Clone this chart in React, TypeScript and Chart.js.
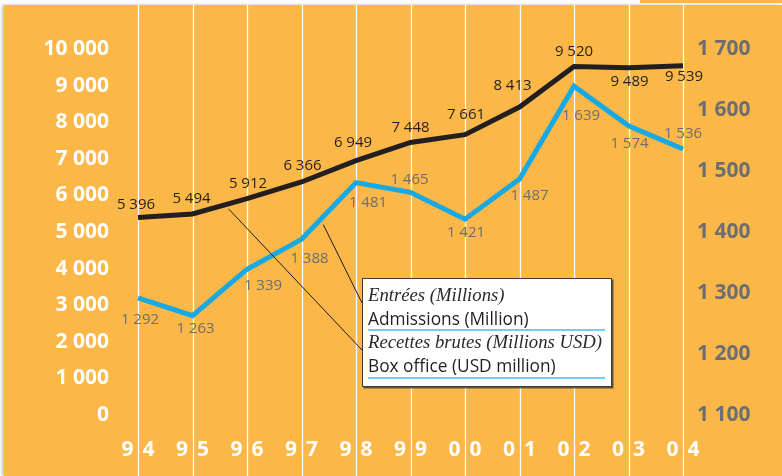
import React, { useEffect, useRef } from "react";
import { Chart, registerables } from "chart.js";

Chart.register(...registerables);

// ---------- data ----------
const years = ["9 4", "9 5", "9 6", "9 7", "9 8", "9 9", "0 0", "0 1", "0 2", "0 3", "0 4"];
const boxOffice = [5396, 5494, 5912, 6366, 6949, 7448, 7661, 8413, 9520, 9489, 9539];
const admissions = [1292, 1263, 1339, 1388, 1481, 1465, 1421, 1487, 1639, 1574, 1536];
const leftTicks = ["0", "1 000", "2 000", "3 000", "4 000", "5 000", "6 000", "7 000", "8 000", "9 000", "10 000"];
const rightTicks = ["1 100", "1 200", "1 300", "1 400", "1 500", "1 600", "1 700"];
const legendAdmFr = "Entrées (Millions)";
const legendAdmEn = "Admissions (Million)";
const legendBoxFr = "Recettes brutes (Millions USD)";
const legendBoxEn = "Box office (USD million)";

// ---------- styling (label placement relative to points) ----------
const boxLabelOffsets = [[-2, -13], [-1, -15], [1, -15], [1, -16], [-3, -18], [0, -15], [1, -20], [-7, -21], [0, -15], [1, 14], [1, 11]];
const admLabelOffsets = [[2, 22], [3, 13], [16, 17], [8, 19], [12, 20], [-1, -13], [1, 14], [10, 17], [7, 30], [1, 18], [0, -15]];

const ORANGE = "#FBB748";
const BLUE = "#17A9E3";
const BLACK = "#231F20";
const GREY = "#6D6E71";
const SANS = "'Open Sans', 'Noto Sans', sans-serif";
const SERIF = "'Liberation Serif', 'DejaVu Serif', serif";

const fmt = (n: number) => n.toString().replace(/\B(?=(\d{3})+(?!\d))/g, " ");

const interp = (arr: number[], t: number) => {
  const i = Math.floor(t);
  const f = t - i;
  return arr[i] + (arr[i + 1] - arr[i]) * f;
};

const decorPlugin = {
  id: "decor",
  beforeDatasetsDraw(chart: any) {
    const { ctx, scales } = chart;
    const x = scales.x;
    ctx.save();
    ctx.strokeStyle = "#ffffff";
    ctx.lineWidth = 1.3;
    years.forEach((_, i) => {
      const px = Math.round(x.getPixelForValue(i)) + 0.5;
      ctx.beginPath();
      ctx.moveTo(px, 5);
      ctx.lineTo(px, chart.height);
      ctx.stroke();
    });
    ctx.restore();
  },
  afterDatasetsDraw(chart: any) {
    const { ctx, scales, chartArea } = chart;
    const x = scales.x;
    const yL = scales.y;
    const yR = scales.y1;

    // value labels
    ctx.save();
    ctx.font = `15px ${SANS}`;
    ctx.textAlign = "center";
    ctx.textBaseline = "middle";
    const metaBox = chart.getDatasetMeta(0);
    const metaAdm = chart.getDatasetMeta(1);
    ctx.fillStyle = BLACK;
    boxOffice.forEach((v, i) => {
      const p = metaBox.data[i];
      const [dx, dy] = boxLabelOffsets[i];
      ctx.fillText(fmt(v), p.x + dx, p.y + dy);
    });
    ctx.fillStyle = GREY;
    admissions.forEach((v, i) => {
      const p = metaAdm.data[i];
      const [dx, dy] = admLabelOffsets[i];
      ctx.fillText(fmt(v), p.x + dx, p.y + dy);
    });
    ctx.restore();

    // legend box
    const bx = chartArea.left + 224;
    const by = chartArea.top + 229;
    const bw = 250;
    const bh = 109;

    // leader lines
    ctx.save();
    ctx.strokeStyle = "#1a1a1a";
    ctx.lineWidth = 1;
    const tA = 3.4;
    const ax = x.getPixelForValue(tA);
    const ay = yR.getPixelForValue(interp(admissions, tA)) + 8;
    ctx.beginPath();
    ctx.moveTo(ax, ay);
    ctx.lineTo(bx, by + 25);
    ctx.stroke();
    const tB = 1.66;
    const bxp = x.getPixelForValue(tB);
    const byp = yL.getPixelForValue(interp(boxOffice, tB)) + 5;
    ctx.beginPath();
    ctx.moveTo(bxp, byp);
    ctx.lineTo(bx, by + 72);
    ctx.stroke();
    ctx.restore();

    ctx.save();
    ctx.fillStyle = "rgba(60,60,60,0.8)";
    ctx.fillRect(bx + 1.5, by + 1.5, bw, bh);
    ctx.fillStyle = "#ffffff";
    ctx.fillRect(bx, by, bw, bh);
    ctx.strokeStyle = "#3a3a3a";
    ctx.lineWidth = 1;
    ctx.strokeRect(bx + 0.5, by + 0.5, bw - 1, bh - 1);

    const tx = bx + 6;
    ctx.textAlign = "left";
    ctx.textBaseline = "alphabetic";
    ctx.fillStyle = "#2a2a2a";
    ctx.font = `italic 18.7px ${SERIF}`;
    ctx.fillText(legendAdmFr, tx, by + 23);
    ctx.font = `17.3px ${SANS}`;
    ctx.fillStyle = BLACK;
    ctx.fillText(legendAdmEn, tx, by + 47);
    ctx.fillStyle = "#2a2a2a";
    ctx.font = `italic 18.7px ${SERIF}`;
    ctx.fillText(legendBoxFr, tx, by + 70);
    ctx.font = `17.3px ${SANS}`;
    ctx.fillStyle = BLACK;
    ctx.fillText(legendBoxEn, tx, by + 94);

    ctx.strokeStyle = "#35C0F0";
    ctx.lineWidth = 1.5;
    [52, 100].forEach((oy) => {
      ctx.beginPath();
      ctx.moveTo(tx, by + oy);
      ctx.lineTo(bx + bw - 7, by + oy);
      ctx.stroke();
    });
    ctx.restore();
  },
};

export default function App() {
  const ref = useRef<HTMLCanvasElement | null>(null);

  useEffect(() => {
    if (!ref.current) return;
    const chart = new Chart(ref.current, {
      type: "line",
      data: {
        labels: years,
        datasets: [
          {
            label: legendBoxEn,
            data: boxOffice,
            yAxisID: "y",
            borderColor: BLACK,
            backgroundColor: BLACK,
            borderWidth: 5,
            pointRadius: 0,
            tension: 0,
            fill: false,
          },
          {
            label: legendAdmEn,
            data: admissions,
            yAxisID: "y1",
            borderColor: BLUE,
            backgroundColor: BLUE,
            borderWidth: 5,
            pointRadius: 0,
            tension: 0,
            fill: false,
          },
        ],
      },
      options: {
        responsive: false,
        animation: false,
        devicePixelRatio: 1,
        layout: { padding: { top: 49, left: 0, right: 0, bottom: 0 } },
        plugins: {
          legend: { display: false },
          tooltip: { enabled: false },
          title: { display: false },
        },
        scales: {
          x: {
            type: "category",
            offset: false,
            grid: { display: false, drawTicks: false },
            border: { display: false },
            ticks: {
              color: "#ffffff",
              font: { family: SANS, size: 21, weight: "bold" },
              padding: 22,
              autoSkip: false,
              maxRotation: 0,
              minRotation: 0,
              callback: (_v: any, i: number) => years[i].replace(" ", " \u2009"),
            },
            afterFit: (s: any) => {
              s.height = 61;
            },
          },
          y: {
            type: "linear",
            position: "left",
            min: 0,
            max: 10000,
            grid: { display: false, drawTicks: false },
            border: { display: false },
            ticks: {
              stepSize: 1000,
              color: "#ffffff",
              font: { family: SANS, size: 21, weight: "bold" },
              padding: 29,
              callback: (v: any) => leftTicks[Math.round(Number(v) / 1000)],
            },
            afterFit: (s: any) => {
              s.width = 138;
            },
          },
          y1: {
            type: "linear",
            position: "right",
            min: 1100,
            max: 1700,
            grid: { display: false, drawTicks: false },
            border: { display: false },
            ticks: {
              stepSize: 100,
              color: GREY,
              font: { family: SANS, size: 21, weight: "bold" },
              padding: 14,
              callback: (v: any) => rightTicks[Math.round((Number(v) - 1100) / 100)],
            },
            afterFit: (s: any) => {
              s.width = 99;
            },
          },
        },
      },
      plugins: [decorPlugin],
    } as any);
    return () => chart.destroy();
  }, []);

  return (
    <div
      style={{
        position: "fixed",
        left: 0,
        top: 0,
        width: 782,
        height: 476,
        background: "#ffffff",
        overflow: "hidden",
      }}
    >
      <div
        style={{
          position: "absolute",
          left: 640,
          top: 0,
          width: 142,
          height: 3,
          background: ORANGE,
        }}
      />
      <div
        style={{
          position: "absolute",
          left: 4,
          top: 5,
          right: 0,
          bottom: 0,
          background: ORANGE,
          boxShadow: "-2px 0 3px rgba(0,0,0,0.25)",
        }}
      />
      <canvas
        ref={ref}
        width={782}
        height={476}
        style={{ position: "absolute", left: 0, top: 0, width: 782, height: 476 }}
      />
    </div>
  );
}
